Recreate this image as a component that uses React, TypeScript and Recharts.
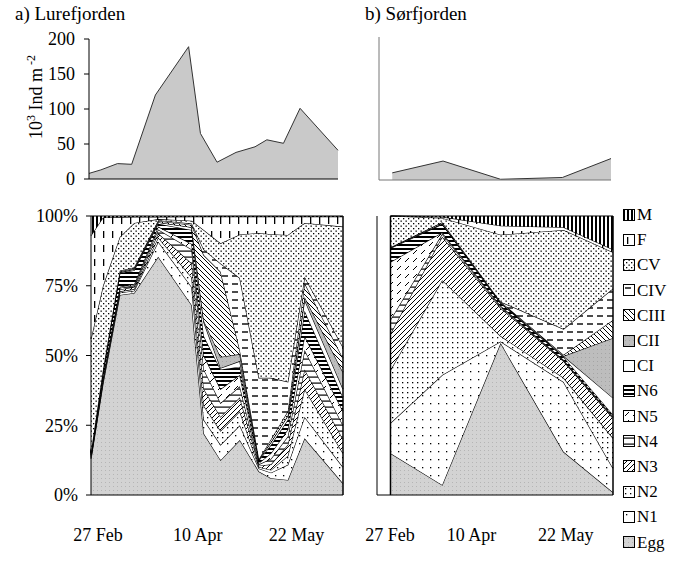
import { Area, AreaChart, ReferenceLine, XAxis, YAxis } from "recharts";

// sampling days (day of year) and total abundance, 10^3 ind m^-2
const LURE_DAYS = [58, 63, 70, 76, 86, 100, 105, 112, 120, 128, 133, 140, 147, 163];
const LURE_TOTAL = [8, 13, 22, 21, 120, 189, 65, 24, 38, 46, 56, 51, 101, 41];
const SOR_DAYS = [64, 87, 113, 141, 163];
const SOR_TOTAL = [10, 26.5, 1, 3.5, 30];

const DAY_TICKS = [58, 79, 100, 121, 142, 163];
const DATE_LABEL_DAYS = [58, 100, 142];
const DATE_LABELS = ["27 Feb", "10 Apr", "22 May"];
const ABUND_TICKS = [0, 50, 100, 150, 200];
const PCT_TICKS = [0, 0.25, 0.5, 0.75, 1];

// stages, bottom of stack first
const STAGES = ["Egg", "N1", "N2", "N3", "N4", "N5", "N6", "CI", "CII", "CIII", "CIV", "CV", "F", "M"];

// Lurefjorden, % of each stage per sampling day
const LURE_EGG = [13, 40, 71.7, 72.4, 85.4, 68, 22, 12.5, 19.7, 8.4, 6, 5.4, 20.3, 4.2];
const LURE_N1 = [0.5, 0.7, 0.8, 0.8, 5.4, 6.5, 5, 5.5, 5.3, 1.1, 2, 5.4, 7.7, 5.8];
const LURE_N2 = [0.5, 0.5, 0.5, 0.6, 1.5, 3.5, 5, 5, 5, 0.5, 1, 3.2, 10, 5];
const LURE_N3 = [0.3, 0.5, 0.7, 0.8, 1.5, 5, 6, 5, 5, 0.5, 2, 4, 7, 5];
const LURE_N4 = [0.3, 0.5, 0.5, 0.6, 1.4, 5, 7, 5, 4, 0.5, 2, 3, 7, 5];
const LURE_N5 = [0.2, 0.3, 0.4, 0.4, 1, 2, 5, 5, 4, 0.5, 2, 2.5, 5, 5];
const LURE_N6 = [0.2, 1.5, 4.9, 5, 1, 5, 7, 7, 3, 1, 3, 3.5, 9, 5];
const LURE_CI = [0.2, 0.3, 0.3, 0.4, 0.6, 1, 5, 0.5, 2, 0.3, 1, 1.5, 4, 3];
const LURE_CII = [0, 0, 0, 0, 0, 0, 0.5, 4, 2.5, 0, 0, 0, 1, 6];
const LURE_CIII = [0.2, 0.3, 0.3, 0.3, 0.4, 0.8, 23.5, 30.5, 1.5, 0.2, 1, 1.5, 5, 5];
const LURE_CIV = [0.2, 0.4, 0.3, 0.3, 0.3, 0.5, 2, 3, 25.8, 29, 22, 10.6, 2.2, 4];
const LURE_CV = [40.4, 30, 12.1, 15.9, 0.4, 1, 7, 7.2, 15.6, 51.9, 51.5, 52.6, 19.3, 43.2];
const LURE_F = [37, 24.5, 7.1, 2.2, 0.8, 1.5, 4.8, 9.6, 6.4, 5.9, 6.3, 6.6, 2.3, 3.6];
const LURE_M = [7, 0.5, 0.4, 0.3, 0.3, 0.2, 0.2, 0.2, 0.2, 0.2, 0.2, 0.2, 0.2, 0.2];

// Sørfjorden
const SOR_EGG = [15, 3.6, 54.5, 15.5, 1];
const SOR_N1 = [10.8, 39.4, 0.5, 25, 8.6];
const SOR_N2 = [19, 34, 2, 1.5, 10.8];
const SOR_N3 = [13, 15.6, 10, 6, 7.2];
const SOR_N4 = [5, 1, 0.5, 0.3, 0.3];
const SOR_N5 = [20.7, 0.5, 0.3, 0.2, 0.3];
const SOR_N6 = [5, 3, 1, 1, 0.6];
const SOR_CI = [0.3, 0.2, 0.2, 0.3, 6];
const SOR_CII = [0, 0, 0, 0, 21.5];
const SOR_CIII = [0, 0.5, 0.3, 0.5, 6.4];
const SOR_CIV = [0, 0, 0, 9.2, 11.3];
const SOR_CV = [11.2, 1.5, 24, 35.5, 13];
const SOR_F = [0, 0.4, 3.2, 1, 1];
const SOR_M = [0, 0.3, 3.5, 4, 12];

const LURE_STAGES = [LURE_EGG, LURE_N1, LURE_N2, LURE_N3, LURE_N4, LURE_N5, LURE_N6, LURE_CI, LURE_CII, LURE_CIII, LURE_CIV, LURE_CV, LURE_F, LURE_M];
const SOR_STAGES = [SOR_EGG, SOR_N1, SOR_N2, SOR_N3, SOR_N4, SOR_N5, SOR_N6, SOR_CI, SOR_CII, SOR_CIII, SOR_CIV, SOR_CV, SOR_F, SOR_M];

const FONT = "'Liberation Serif', 'Times New Roman', serif";

const totalRows = (days: number[], totals: number[]) =>
  days.map((day, i) => ({ day, total: totals[i] }));

const stageRows = (days: number[], stages: number[][]) =>
  days.map((day, i) => {
    const row: Record<string, number> = { day };
    STAGES.forEach((s, k) => {
      row[s] = stages[k][i];
    });
    return row;
  });

const lureTotal = totalRows(LURE_DAYS, LURE_TOTAL);
const sorTotal = totalRows(SOR_DAYS, SOR_TOTAL);
const lureStages = stageRows(LURE_DAYS, LURE_STAGES);
const sorStages = stageRows(SOR_DAYS, SOR_STAGES);

function Patterns() {
  return (
    <svg width={0} height={0} style={{ position: "absolute" }}>
      <defs>
        <pattern id="pEgg" width="4" height="4" patternUnits="userSpaceOnUse">
          <rect width="4" height="4" fill="#d3d3d3" />
          <rect x="1" y="2" width="1" height="1" fill="#b5b5b5" />
        </pattern>
        <pattern id="pN1" width="8" height="8" patternUnits="userSpaceOnUse">
          <rect width="8" height="8" fill="#fff" />
          <rect x="3" y="3" width="1.3" height="1.3" fill="#000" />
        </pattern>
        <pattern id="pN2" width="5" height="5" patternUnits="userSpaceOnUse">
          <rect width="5" height="5" fill="#fff" />
          <rect x="2" y="2" width="1.3" height="1.3" fill="#000" />
        </pattern>
        <pattern id="pN3" width="5" height="5" patternUnits="userSpaceOnUse">
          <rect width="5" height="5" fill="#fff" />
          <path d="M-1,1 l2,-2 M0,5 l5,-5 M4,6 l2,-2" stroke="#000" strokeWidth="1" />
        </pattern>
        <pattern id="pN4" width="6" height="6" patternUnits="userSpaceOnUse">
          <rect width="6" height="6" fill="#fff" />
          <rect y="2.5" width="6" height="1.2" fill="#000" />
        </pattern>
        <pattern id="pN5" width="8" height="8" patternUnits="userSpaceOnUse">
          <rect width="8" height="8" fill="#fff" />
          <path d="M2,6 L6,2" stroke="#000" strokeWidth="1" />
        </pattern>
        <pattern id="pN6" width="4" height="4" patternUnits="userSpaceOnUse">
          <rect width="4" height="4" fill="#fff" />
          <rect width="4" height="2" fill="#000" />
        </pattern>
        <pattern id="pCI" width="4" height="4" patternUnits="userSpaceOnUse">
          <rect width="4" height="4" fill="#fff" />
        </pattern>
        <pattern id="pCII" width="4" height="4" patternUnits="userSpaceOnUse">
          <rect width="4" height="4" fill="#bdbdbd" />
          <rect x="2" y="1" width="1" height="1" fill="#a5a5a5" />
        </pattern>
        <pattern id="pCIII" width="5" height="5" patternUnits="userSpaceOnUse">
          <rect width="5" height="5" fill="#fff" />
          <path d="M0,0 l5,5 M-1,4 l2,2 M4,-1 l2,2" stroke="#000" strokeWidth="1" />
        </pattern>
        <pattern id="pCIV" width="10" height="8" patternUnits="userSpaceOnUse">
          <rect width="10" height="8" fill="#fff" />
          <rect x="2" y="3.3" width="6" height="1.4" fill="#000" />
        </pattern>
        <pattern id="pCV" width="5" height="5" patternUnits="userSpaceOnUse">
          <rect width="5" height="5" fill="#fff" />
          <rect x="0.5" y="0.5" width="1.3" height="1.3" fill="#000" />
          <rect x="3" y="3" width="1.3" height="1.3" fill="#000" />
        </pattern>
        <pattern id="pF" width="9" height="14" patternUnits="userSpaceOnUse">
          <rect width="9" height="14" fill="#fff" />
          <rect x="4" y="3" width="1.3" height="7" fill="#000" />
        </pattern>
        <pattern id="pM" width="4" height="4" patternUnits="userSpaceOnUse">
          <rect width="4" height="4" fill="#fff" />
          <rect width="2" height="4" fill="#000" />
        </pattern>
      </defs>
    </svg>
  );
}

const tickText = { fontSize: 18, fill: "#000", fontFamily: FONT };

function makeDateTick(shift: number[]) {
  return function DateTick(props: any) {
    const { x, y, payload, index } = props;
    const i = DATE_LABEL_DAYS.indexOf(payload.value);
    return (
      <text
        x={x + (shift[index] ?? 0)}
        y={y}
        dy="0.71em"
        textAnchor="middle"
        fontSize={18}
        fontFamily={FONT}
        fill="#000"
      >
        {DATE_LABELS[i]}
      </text>
    );
  };
}

const LureDateTick = makeDateTick([7, 6, 4]);
const SorDateTick = makeDateTick([13, 0, 0]);

function TotalChart({
  data,
  width,
  margin,
  yWidth,
  showLabels,
  axisColor,
}: {
  data: { day: number; total: number }[];
  width: number;
  margin: { top: number; right: number; bottom: number; left: number };
  yWidth: number;
  showLabels: boolean;
  axisColor: string;
}) {
  return (
    <AreaChart width={width} height={200} data={data} margin={margin}>
      <XAxis
        dataKey="day"
        type="number"
        domain={[58, 163]}
        ticks={DAY_TICKS}
        interval={0}
        tick={false}
        tickSize={5}
        height={10}
        stroke={axisColor}
      />
      <YAxis
        type="number"
        domain={[0, 200]}
        ticks={ABUND_TICKS}
        interval={0}
        width={yWidth}
        tick={showLabels ? tickText : false}
        tickSize={5}
        tickMargin={9}
        stroke={axisColor}
      />
      <Area
        type="linear"
        dataKey="total"
        fill="#c9c9c9"
        fillOpacity={1}
        stroke="#333"
        strokeWidth={1}
        isAnimationActive={false}
      />
    </AreaChart>
  );
}

function StageChart({
  data,
  width,
  margin,
  yWidth,
  showLabels,
  edges,
  DateTick,
}: {
  data: Record<string, number>[];
  width: number;
  margin: { top: number; right: number; bottom: number; left: number };
  yWidth: number;
  showLabels: boolean;
  edges: number[];
  DateTick: (p: any) => any;
}) {
  return (
    <AreaChart width={width} height={360} data={data} margin={margin} stackOffset="expand">
      <XAxis
        dataKey="day"
        type="number"
        domain={[58, 163]}
        ticks={DAY_TICKS}
        interval={0}
        tick={false}
        tickSize={6}
        height={8}
        stroke="#000"
      />
      <XAxis
        xAxisId="lab"
        dataKey="day"
        type="number"
        domain={[58, 163]}
        ticks={DATE_LABEL_DAYS}
        interval={0}
        axisLine={false}
        tickLine={false}
        tickSize={0}
        tickMargin={25}
        height={37}
        tick={DateTick}
      />
      <YAxis
        type="number"
        domain={[0, 1]}
        ticks={PCT_TICKS}
        interval={0}
        width={yWidth}
        tick={showLabels ? tickText : false}
        tickFormatter={(v: number) => `${Math.round(v * 100)}%`}
        tickSize={5}
        tickMargin={8}
        stroke="#000"
      />
      {STAGES.map((s) => (
        <Area
          key={s}
          type="linear"
          dataKey={s}
          stackId="a"
          fill={`url(#p${s})`}
          fillOpacity={1}
          stroke="#000"
          strokeWidth={1.2}
          isAnimationActive={false}
        />
      ))}
      {edges.map((d) => (
        <ReferenceLine key={d} x={d} stroke="#000" strokeWidth={1.5} />
      ))}
    </AreaChart>
  );
}

function Legend() {
  const items = [...STAGES].reverse();
  return (
    <div style={{ position: "absolute", left: 623, top: 202, fontFamily: FONT }}>
      {items.map((s) => (
        <div key={s} style={{ display: "flex", alignItems: "center", height: 25.2 }}>
          <svg width={12} height={12} style={{ marginRight: 2 }}>
            <rect x={0.5} y={0.5} width={11} height={11} fill={`url(#p${s})`} stroke="#000" />
          </svg>
          <span style={{ fontSize: 17, lineHeight: 1 }}>{s}</span>
        </div>
      ))}
    </div>
  );
}

export default function App() {
  const abs = (left: number, top: number) => ({ position: "absolute" as const, left, top });
  return (
    <div
      style={{
        position: "absolute",
        left: 0,
        top: 0,
        width: 696,
        height: 569,
        background: "#fff",
        fontFamily: FONT,
        color: "#000",
      }}
    >
      <Patterns />
      <div style={{ ...abs(15, 4), fontSize: 19, lineHeight: "19px", whiteSpace: "nowrap" }}>a) Lurefjorden</div>
      <div style={{ ...abs(365, 4), fontSize: 19, lineHeight: "19px", whiteSpace: "nowrap" }}>b) Sørfjorden</div>
      <div
        style={{
          ...abs(35, 97),
          transform: "translate(-50%, -50%) rotate(-90deg)",
          fontSize: 18,
          lineHeight: 1,
          whiteSpace: "nowrap",
        }}
      >
        10<sup style={{ fontSize: 12 }}>3</sup> Ind m<sup style={{ fontSize: 12 }}> -2</sup>
      </div>

      <div style={abs(0, 0)}>
        <TotalChart
          data={lureTotal}
          width={350}
          margin={{ top: 39, right: 12, bottom: 11, left: 29 }}
          yWidth={60}
          showLabels
          axisColor="#000"
        />
      </div>
      <div style={abs(350, 0)}>
        <TotalChart
          data={sorTotal}
          width={300}
          margin={{ top: 37, right: 39, bottom: 10, left: 9 }}
          yWidth={20}
          showLabels={false}
          axisColor="#777"
        />
      </div>
      <div style={abs(0, 200)}>
        <StageChart
          data={lureStages}
          width={360}
          margin={{ top: 16, right: 17, bottom: 20, left: 31 }}
          yWidth={60}
          showLabels
          edges={[LURE_DAYS[LURE_DAYS.length - 1]]}
          DateTick={LureDateTick}
        />
      </div>
      <div style={abs(355, 200)}>
        <StageChart
          data={sorStages}
          width={270}
          margin={{ top: 16, right: 12, bottom: 20, left: 2 }}
          yWidth={20}
          showLabels={false}
          edges={[SOR_DAYS[0], SOR_DAYS[SOR_DAYS.length - 1]]}
          DateTick={SorDateTick}
        />
      </div>
      <Legend />
    </div>
  );
}
